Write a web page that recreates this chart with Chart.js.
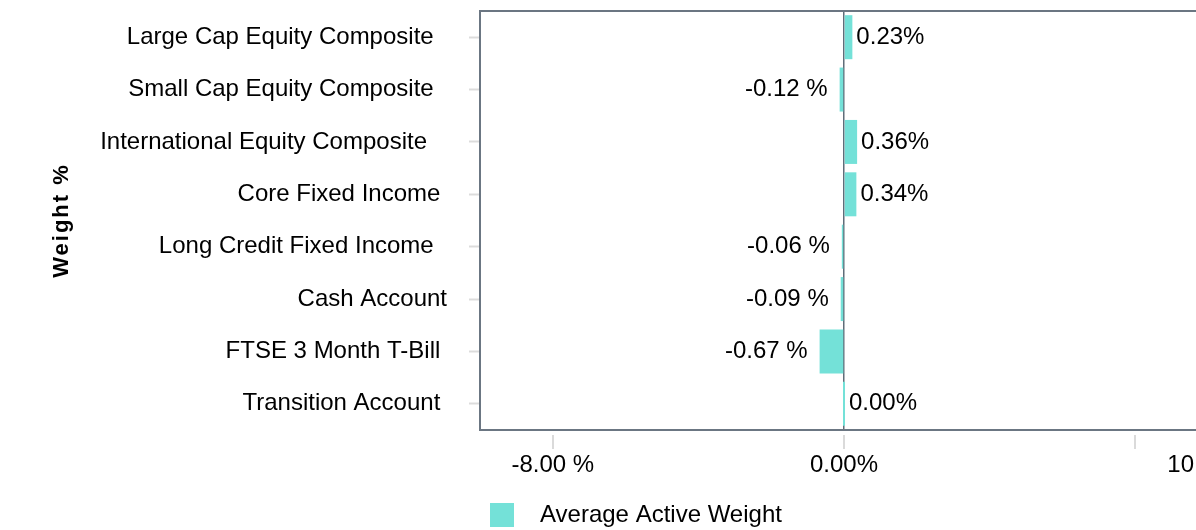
<!DOCTYPE html>
<html>
<head>
<meta charset="utf-8">
<script src="https://cdn.jsdelivr.net/npm/chart.js@4/dist/chart.umd.min.js"></script>
<style>
  html, body { margin: 0; padding: 0; background: #fff; overflow: hidden; }
  #wrap { position: absolute; left: 0; top: 0; width: 1300px; height: 537px; }
</style>
</head>
<body>
<div id="wrap"><canvas id="weightChart"></canvas></div>
<script>
// Category names (trailing spaces kept as they sit in the source labels)
const categories = [
  "Large Cap Equity Composite  ",
  "Small Cap Equity Composite  ",
  "International Equity Composite   ",
  "Core Fixed Income ",
  "Long Credit Fixed Income  ",
  "Cash Account",
  "FTSE 3 Month T-Bill ",
  "Transition Account "
];

// Average active weight, in %
const activeWeight = [0.23, -0.12, 0.36, 0.34, -0.06, -0.09, -0.67, 0.00];

// x axis ticks
const xTickValues = [-8, 0, 8, 10];
const xTickLabels = ["-8.00 %", "0.00%", "", "10.00%"];

const FONT = "'Liberation Sans', Arial, Helvetica, sans-serif";
const BAR_COLOR = "#74e1d8";
const FRAME_COLOR = "#6b7682";

function fmtPct(v) {
  return v < 0 ? v.toFixed(2) + " %" : v.toFixed(2) + "%";
}

// legend swatch: square on the left, blank room on the right
const swatch = document.createElement("canvas");
swatch.width = 38;
swatch.height = 24;
const sctx = swatch.getContext("2d");
sctx.fillStyle = BAR_COLOR;
sctx.fillRect(0, 0, 24, 24);

// frame, bottom tick marks and value labels
const decorations = {
  id: "decorations",
  afterDatasetsDraw(chart) {
    const { ctx } = chart;
    ctx.save();
    // value labels at the bar ends
    const meta = chart.getDatasetMeta(0);
    ctx.font = "24px " + FONT;
    ctx.fillStyle = "#000";
    ctx.textBaseline = "middle";
    meta.data.forEach((bar, i) => {
      const v = activeWeight[i];
      if (v < 0) {
        ctx.textAlign = "right";
        ctx.fillText(fmtPct(v), Math.min(bar.x, bar.base) - 12, bar.y);
      } else {
        ctx.textAlign = "left";
        ctx.fillText(fmtPct(v), Math.max(bar.x, bar.base) + 4, bar.y);
      }
    });
    ctx.restore();
  },
  afterDraw(chart) {
    const { ctx, chartArea: a } = chart;
    ctx.save();
    ctx.strokeStyle = FRAME_COLOR;
    ctx.lineWidth = 2;
    ctx.strokeRect(a.left, a.top, a.right - a.left, a.bottom - a.top);
    // x tick marks, set a little below the frame
    const xs = chart.scales.x;
    ctx.strokeStyle = "#dadada";
    ctx.lineWidth = 2;
    xs.ticks.forEach(t => {
      const px = Math.round(xs.getPixelForValue(t.value));
      ctx.beginPath();
      ctx.moveTo(px, a.bottom + 5);
      ctx.lineTo(px, a.bottom + 19);
      ctx.stroke();
    });
    ctx.restore();
  }
};

// spaced-out y axis title
const spacedTitle = {
  id: "spacedTitle",
  beforeDraw(chart) {
    const s = chart.scales.y;
    if (s && !s._spaced) {
      const orig = s.drawTitle.bind(s);
      s.drawTitle = function () {
        const c = this.ctx;
        c.save();
        c.letterSpacing = "2px";
        orig();
        c.restore();
      };
      s._spaced = true;
    }
  }
};

new Chart(document.getElementById("weightChart"), {
  type: "bar",
  data: {
    labels: categories,
    datasets: [{
      label: "Average Active Weight",
      data: activeWeight,
      backgroundColor: BAR_COLOR,
      borderWidth: 0,
      barPercentage: 0.84,
      categoryPercentage: 1,
      minBarLength: 2
    }]
  },
  options: {
    indexAxis: "y",
    responsive: true,
    maintainAspectRatio: false,
    animation: false,
    layout: { padding: { left: 49, top: 11, right: 92, bottom: 0 } },
    scales: {
      x: {
        min: -10,
        max: 10,
        afterBuildTicks: scale => { scale.ticks = xTickValues.map(v => ({ value: v })); },
        afterFit: scale => { scale.height = 63; },
        border: { display: false },
        grid: {
          drawTicks: false,
          color: c => (c.tick && c.tick.value === 0 ? "#5f6d79" : "transparent"),
          lineWidth: 1.5
        },
        ticks: {
          autoSkip: false,
          maxRotation: 0,
          padding: 21,
          color: "#000",
          font: { family: FONT, size: 24 },
          callback: (value, index) => xTickLabels[index]
        }
      },
      y: {
        afterFit: scale => {
          scale.width = 431;
          scale.paddingTop = 0;
          scale.paddingBottom = 0;
        },
        border: { display: false },
        grid: {
          offset: false,
          drawOnChartArea: false,
          tickLength: 11,
          tickColor: "#dcdcdc",
          tickWidth: 2
        },
        ticks: {
          padding: 22,
          color: "#000",
          font: { family: FONT, size: 24 }
        },
        title: {
          display: true,
          text: "Weight %",
          color: "#000",
          padding: { top: 0, bottom: 0 },
          font: { family: FONT, size: 22, weight: "bold" }
        }
      }
    },
    plugins: {
      legend: {
        position: "bottom",
        align: "start",
        fullSize: false,
        labels: {
          usePointStyle: true,
          pointStyle: swatch,
          pointStyleWidth: 38,
          padding: 10,
          color: "#000",
          font: { family: FONT, size: 24 }
        }
      },
      tooltip: { enabled: false }
    }
  },
  plugins: [decorations, spacedTitle]
});
</script>
</body>
</html>
